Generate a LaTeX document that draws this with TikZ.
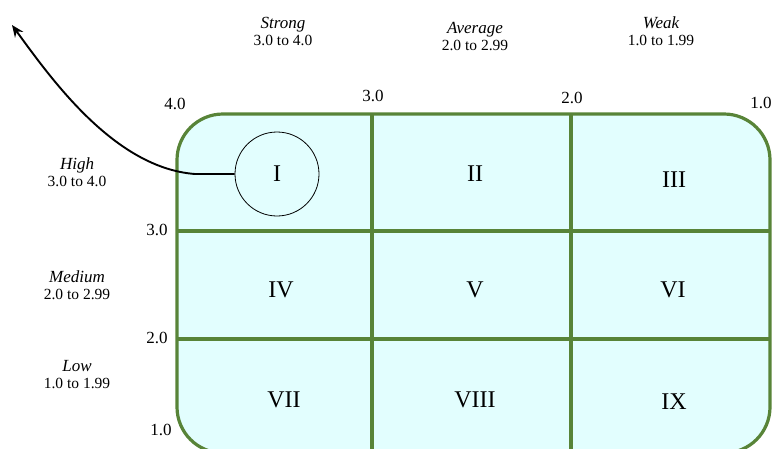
\documentclass[tikz,border=0pt]{standalone}
\usepackage{fontspec}
\setmainfont{Liberation Serif}
\usetikzlibrary{arrows.meta}
\definecolor{gridgreen}{RGB}{88,132,56}
\definecolor{cellfill}{RGB}{226,254,254}
\begin{document}
\begin{tikzpicture}[x=1pt,y=-1pt,
  cat/.style={align=center,font=\fontsize{15.5}{16}\selectfont,inner sep=0pt},
  tick/.style={font=\fontsize{17}{18}\selectfont,inner sep=0pt},
  roman/.style={font=\fontsize{24}{26}\selectfont,inner sep=0pt},
  gridline/.style={draw=gridgreen,line width=3.2pt}]
\useasboundingbox (0,0) rectangle (773,448);
\clip (0,0) rectangle (773,448);
% matrix box
\draw[gridline,fill=cellfill,rounded corners=46pt] (177,114) rectangle (770,453);
\draw[gridline] (372,114) -- (372,453);
\draw[gridline] (571,114) -- (571,453);
\draw[gridline] (177,231) -- (770,231);
\draw[gridline] (177,339) -- (770,339);
% top labels
\node[cat] (strong) at (283,31) {{\fontsize{17}{17}\selectfont\itshape Strong}\\[1pt]3.0 to 4.0};
\node[cat] (average) at (475,36) {{\fontsize{17}{17}\selectfont\itshape Average}\\[1pt]2.0 to 2.99};
\node[cat] (weak) at (661,31) {{\fontsize{17}{17}\selectfont\itshape Weak}\\[1pt]1.0 to 1.99};
% left labels
\node[cat] (high) at (77,172) {{\fontsize{17}{17}\selectfont\itshape High}\\[1pt]3.0 to 4.0};
\node[cat] (medium) at (77,285) {{\fontsize{17}{17}\selectfont\itshape Medium}\\[1pt]2.0 to 2.99};
\node[cat] (low) at (77,375) {{\fontsize{17}{17}\selectfont\itshape Low}\\[1pt]1.0 to 1.99};
% tick values
\node[tick] (t40) at (175,104) {4.0};
\node[tick] (t30a) at (373,96) {3.0};
\node[tick] (t20a) at (572,98) {2.0};
\node[tick] (t10a) at (761,103) {1.0};
\node[tick] (t30b) at (157,230) {3.0};
\node[tick] (t20b) at (157,338) {2.0};
\node[tick] (t10b) at (161,430) {1.0};
% cells
\node[roman,draw=black,line width=0.8pt,circle,minimum size=84pt] (c1) at (277,174) {I};
\node[roman] (c2) at (475,174) {II};
\node[roman] (c3) at (674,180) {III};
\node[roman] (c4) at (281,290) {IV};
\node[roman] (c5) at (475,290) {V};
\node[roman] (c6) at (673,290) {VI};
\node[roman] (c7) at (284,400) {VII};
\node[roman] (c8) at (475,400) {VIII};
\node[roman] (c9) at (674,402) {IX};
% arrow
\coordinate (tip) at (12,25);
\draw[line width=1.9pt,-{Stealth[length=12pt,width=10pt]}] (c1.west) -- (195,174) .. controls (115,168) and (52,80) .. (tip);
\end{tikzpicture}
\end{document}
